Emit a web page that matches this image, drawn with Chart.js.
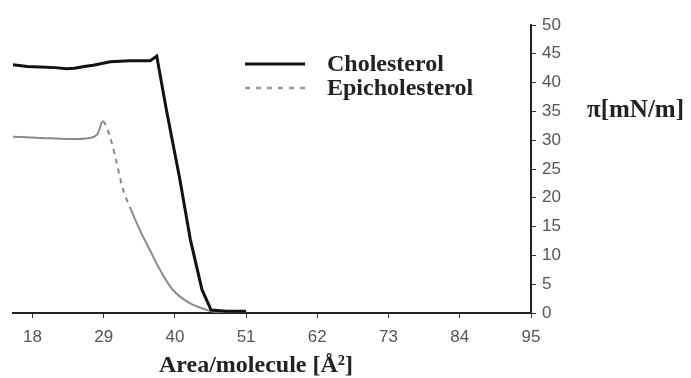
<!DOCTYPE html>
<html>
<head>
<meta charset="utf-8">
<script src="https://cdn.jsdelivr.net/npm/chart.js"></script>
<style>
  html, body { margin: 0; padding: 0; background: #fff; }
  #wrap { position: relative; width: 691px; height: 378px; }
</style>
</head>
<body>
<div id="wrap"><canvas id="chartCanvas" width="691" height="378"></canvas></div>
<script>
// Area per molecule (A^2) and surface pressure (mN/m)
const cholArea = [15, 17.2, 19.2, 21.5, 23.3, 24.5, 26, 27.4, 30.0, 33.1, 36.2, 37.2, 38.6, 39.6, 40.7, 42.4, 44.2, 45.6, 48, 51];
const cholPi   = [43.1, 42.8, 42.7, 42.6, 42.4, 42.5, 42.8, 43.0, 43.6, 43.8, 43.8, 44.6, 35.8, 30.0, 23.6, 12.7, 4.0, 0.5, 0.3, 0.3];

const epiArea = [15, 19.2, 23.8, 26.9, 28.0, 28.9, 30.0, 30.9, 32.0, 33.2, 34.6, 36.2, 37.7, 39.7, 42.3, 45.0, 46.2, 51];
const epiPi   = [30.6, 30.4, 30.2, 30.4, 31.0, 33.3, 30.5, 26.6, 21.4, 18.0, 14.4, 10.8, 7.5, 4.0, 1.7, 0.5, 0.2, 0.2];

const xTicks = [18, 29, 40, 51, 62, 73, 84, 95];
const yTicks = [0, 5, 10, 15, 20, 25, 30, 35, 40, 45, 50];

const seriesNames = ['Cholesterol', 'Epicholesterol'];

const toPoints = (xs, ys) => xs.map((x, i) => ({ x: x, y: ys[i] }));

// legend + axis titles drawn by hand
const extrasPlugin = {
  id: 'extras',
  afterDraw(chart) {
    const c = chart.ctx;
    c.save();
    // legend
    c.lineWidth = 3;
    c.strokeStyle = '#111';
    c.beginPath(); c.moveTo(245, 64); c.lineTo(305, 64); c.stroke();
    c.lineWidth = 2.5;
    c.strokeStyle = '#999';
    c.setLineDash([5, 6]);
    c.beginPath(); c.moveTo(245, 88); c.lineTo(305, 88); c.stroke();
    c.setLineDash([]);
    c.fillStyle = '#222';
    c.font = 'bold 24px "Liberation Serif", serif';
    c.textBaseline = 'middle';
    c.fillText(seriesNames[0], 327, 65);
    c.fillText(seriesNames[1], 327, 89);
    // y title
    c.font = 'bold 25px "Liberation Serif", serif';
    c.fillText('\u03c0[mN/m]', 587, 111);
    // x title
    c.font = 'bold 24px "Liberation Serif", serif';
    c.textAlign = 'center';
    c.fillText('Area/molecule [\u00c5\u00b2]', 256, 366);
    c.restore();
  }
};

const ctx = document.getElementById('chartCanvas').getContext('2d');

new Chart(ctx, {
  type: 'line',
  data: {
    datasets: [
      {
        label: seriesNames[0],
        data: toPoints(cholArea, cholPi),
        borderColor: '#111',
        borderWidth: 3,
        pointRadius: 0,
        tension: 0
      },
      {
        label: seriesNames[1],
        data: toPoints(epiArea, epiPi),
        borderColor: '#8a8a8a',
        borderWidth: 2,
        pointRadius: 0,
        tension: 0.3,
        segment: {
          borderDash: s => (s.p0.parsed.x >= 28.9 && s.p1.parsed.x <= 34) ? [5, 5] : undefined
        }
      }
    ]
  },
  options: {
    responsive: false,
    animation: false,
    layout: { padding: { left: 13, top: 25, right: 0, bottom: 0 } },
    plugins: {
      legend: { display: false },
      tooltip: { enabled: false }
    },
    scales: {
      x: {
        type: 'linear',
        min: 15,
        max: 95,
        afterBuildTicks: axis => { axis.ticks = xTicks.map(v => ({ value: v })); },
        afterFit: axis => { axis.height = 65; },
        grid: { drawOnChartArea: false, tickLength: 5, color: '#333', tickWidth: 1 },
        border: { color: '#222', width: 2 },
        ticks: {
          color: '#555',
          font: { family: '"Liberation Sans", Arial, sans-serif', size: 17 },
          padding: 9,
          maxRotation: 0,
          autoSkip: false
        }
      },
      y: {
        position: 'right',
        min: 0,
        max: 50,
        afterBuildTicks: axis => { axis.ticks = yTicks.map(v => ({ value: v })); },
        afterFit: axis => { axis.width = 160; },
        grid: { drawOnChartArea: false, tickLength: 5, color: '#333', tickWidth: 1 },
        border: { color: '#222', width: 2 },
        ticks: {
          color: '#555',
          font: { family: '"Liberation Sans", Arial, sans-serif', size: 17 },
          padding: 6,
          autoSkip: false
        }
      }
    }
  },
  plugins: [extrasPlugin]
});
</script>
</body>
</html>
